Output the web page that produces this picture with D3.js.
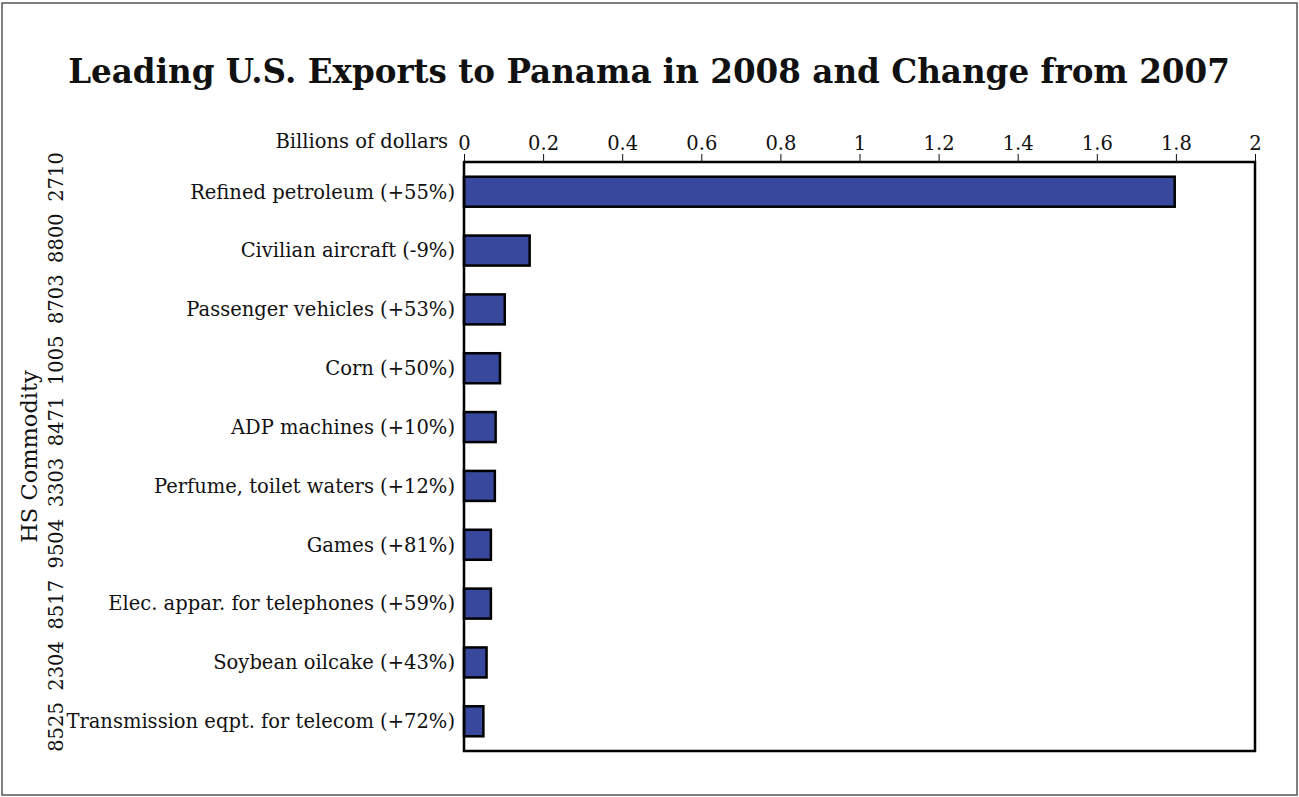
<!DOCTYPE html>
<html>
<head>
<meta charset="utf-8">
<script src="https://cdn.jsdelivr.net/npm/d3@7"></script>
<style>
  html, body { margin: 0; padding: 0; background: #fff; }
  svg { display: block; }
  text { font-family: "DejaVu Serif", serif; fill: #111; }
</style>
</head>
<body>
<div id="chart"></div>
<script>
// Leading U.S. exports to Panama, 2008 (billions of dollars)
const codes = ["2710", "8800", "8703", "1005", "8471", "3303", "9504", "8517", "2304", "8525"];
const commodities = [
  "Refined petroleum (+55%)",
  "Civilian aircraft (-9%)",
  "Passenger vehicles (+53%)",
  "Corn (+50%)",
  "ADP machines (+10%)",
  "Perfume, toilet waters (+12%)",
  "Games (+81%)",
  "Elec. appar. for telephones (+59%)",
  "Soybean oilcake (+43%)",
  "Transmission eqpt. for telecom (+72%)"
];
const exports2008 = [1.797, 0.166, 0.103, 0.091, 0.080, 0.078, 0.068, 0.068, 0.057, 0.049];
const xTicks = [0, 0.2, 0.4, 0.6, 0.8, 1, 1.2, 1.4, 1.6, 1.8, 2];

const W = 1299, H = 797;
const plot = { left: 464, right: 1255, top: 162, bottom: 751 };

const svg = d3.select("#chart").append("svg")
  .attr("width", W).attr("height", H);

// outer frame
svg.append("rect")
  .attr("x", 2).attr("y", 3).attr("width", W - 4).attr("height", H - 5)
  .attr("fill", "none").attr("stroke", "#555").attr("stroke-width", 1.5);

// title
svg.append("text")
  .attr("x", 649).attr("y", 83)
  .attr("text-anchor", "middle")
  .attr("font-size", 32.6).attr("font-weight", "bold")
  .text("Leading U.S. Exports to Panama in 2008 and Change from 2007");

const x = d3.scaleLinear().domain([0, 2]).range([plot.left, plot.right]);
const y = d3.scaleBand().domain(d3.range(codes.length))
  .range([plot.top, plot.bottom]).paddingInner(0.49).paddingOuter(0.25);
// HS codes sit on a slightly wider spread than the bars
const yCode = d3.scalePoint().domain(d3.range(codes.length)).range([177, 727]);

// top value axis
const xAxis = svg.append("g")
  .attr("transform", `translate(0,${plot.top})`)
  .call(d3.axisTop(x).tickValues(xTicks).tickSize(8).tickPadding(4)
    .tickFormat(d => d3.format("~g")(d)));
xAxis.select(".domain").remove();
xAxis.selectAll(".tick line").attr("stroke", "#111").attr("stroke-width", 1);
xAxis.selectAll(".tick text")
  .attr("font-family", "DejaVu Serif, serif").attr("font-size", 19.5).attr("fill", "#111");

svg.append("text")
  .attr("x", 448).attr("y", plot.top - 14)
  .attr("text-anchor", "end").attr("font-size", 19.5)
  .text("Billions of dollars");

// bars
svg.append("g").selectAll("rect")
  .data(exports2008)
  .join("rect")
  .attr("x", x(0))
  .attr("y", (d, i) => y(i))
  .attr("width", d => x(d) - x(0))
  .attr("height", y.bandwidth())
  .attr("fill", "#37489d")
  .attr("stroke", "#000").attr("stroke-width", 2.5);

// plot frame
svg.append("rect")
  .attr("x", plot.left).attr("y", plot.top)
  .attr("width", plot.right - plot.left).attr("height", plot.bottom - plot.top)
  .attr("fill", "none").attr("stroke", "#000").attr("stroke-width", 2.5);

// commodity labels
svg.append("g").selectAll("text")
  .data(commodities)
  .join("text")
  .attr("x", 455)
  .attr("y", (d, i) => y(i) + y.bandwidth() / 2)
  .attr("dy", "0.35em")
  .attr("text-anchor", "end").attr("font-size", 19.5)
  .text(d => d);

// HS codes, rotated
svg.append("g").selectAll("text")
  .data(codes)
  .join("text")
  .attr("transform", (d, i) => `translate(63,${yCode(i)}) rotate(-90)`)
  .attr("text-anchor", "middle").attr("font-size", 19.5)
  .text(d => d);

svg.append("text")
  .attr("transform", `translate(37,${(plot.top + plot.bottom) / 2}) rotate(-90)`)
  .attr("text-anchor", "middle").attr("font-size", 22.5)
  .text("HS Commodity");
</script>
</body>
</html>
